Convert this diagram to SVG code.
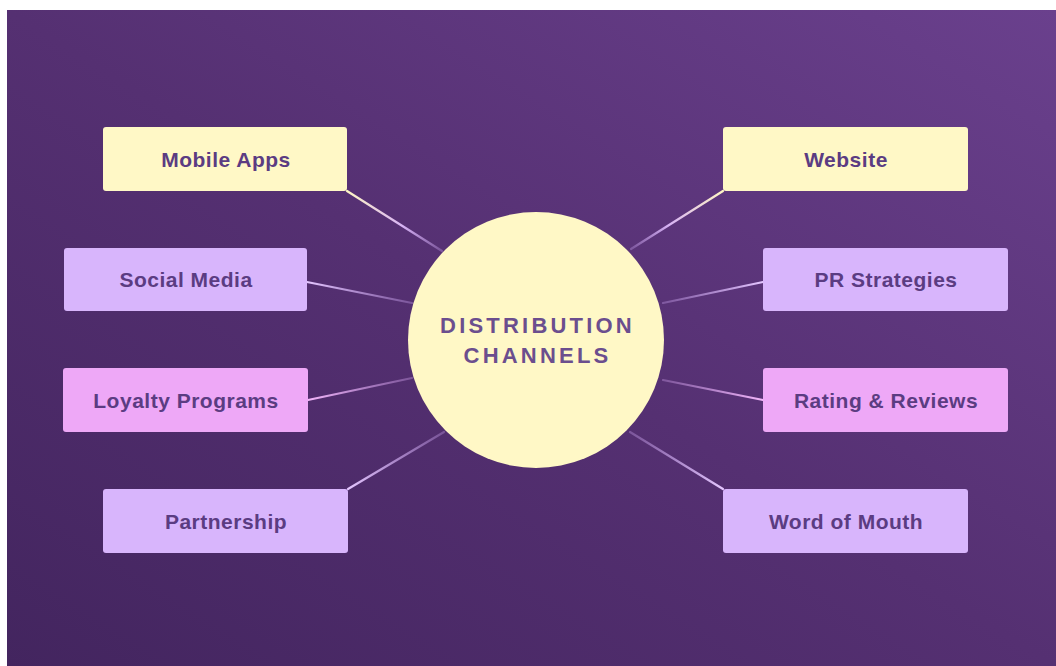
<svg xmlns="http://www.w3.org/2000/svg" width="1056" height="666" viewBox="0 0 1056 666">
  <defs>
    <linearGradient id="bg" x1="0" y1="1" x2="1" y2="0">
      <stop offset="0" stop-color="#43255f"/>
      <stop offset="0.5" stop-color="#553072"/>
      <stop offset="1" stop-color="#6a408d"/>
    </linearGradient>
    <!-- connector fades: box colour at the box end, soft lavender toward the hub -->
    <linearGradient id="gYellowL" gradientUnits="userSpaceOnUse" x1="347" y1="191" x2="440" y2="250">
      <stop offset="0" stop-color="#fff6c4"/>
      <stop offset="0.6" stop-color="#d7b3f5"/>
      <stop offset="1" stop-color="#c9a2ee" stop-opacity="0.35"/>
    </linearGradient>
    <linearGradient id="gYellowR" gradientUnits="userSpaceOnUse" x1="723" y1="191" x2="633" y2="248">
      <stop offset="0" stop-color="#fff6c4"/>
      <stop offset="0.6" stop-color="#d7b3f5"/>
      <stop offset="1" stop-color="#c9a2ee" stop-opacity="0.35"/>
    </linearGradient>
    <linearGradient id="gSocial" gradientUnits="userSpaceOnUse" x1="307" y1="282" x2="410" y2="303">
      <stop offset="0" stop-color="#e4c6ff"/>
      <stop offset="1" stop-color="#c9a2ee" stop-opacity="0.35"/>
    </linearGradient>
    <linearGradient id="gPR" gradientUnits="userSpaceOnUse" x1="763" y1="282" x2="665" y2="303">
      <stop offset="0" stop-color="#e4c6ff"/>
      <stop offset="1" stop-color="#c9a2ee" stop-opacity="0.35"/>
    </linearGradient>
    <linearGradient id="gLoyalty" gradientUnits="userSpaceOnUse" x1="308" y1="400" x2="411" y2="378">
      <stop offset="0" stop-color="#f3b6fa"/>
      <stop offset="1" stop-color="#d2a2ee" stop-opacity="0.35"/>
    </linearGradient>
    <linearGradient id="gRating" gradientUnits="userSpaceOnUse" x1="763" y1="400" x2="665" y2="380">
      <stop offset="0" stop-color="#f3b6fa"/>
      <stop offset="1" stop-color="#d2a2ee" stop-opacity="0.35"/>
    </linearGradient>
    <linearGradient id="gPartner" gradientUnits="userSpaceOnUse" x1="348" y1="489" x2="442" y2="433">
      <stop offset="0" stop-color="#e4c6ff"/>
      <stop offset="1" stop-color="#c9a2ee" stop-opacity="0.35"/>
    </linearGradient>
    <linearGradient id="gWord" gradientUnits="userSpaceOnUse" x1="723" y1="489" x2="632" y2="433">
      <stop offset="0" stop-color="#e4c6ff"/>
      <stop offset="1" stop-color="#c9a2ee" stop-opacity="0.35"/>
    </linearGradient>
  </defs>
  <style>
    .box { rx: 3; ry: 3; }
    .yellow { fill: #fff8c6; }
    .lavender { fill: #d8b5fc; }
    .pink { fill: #eea8f7; }
    .label { font-family: "Liberation Sans", Arial, sans-serif; font-weight: bold; font-size: 21px; fill: #5b3c82; text-anchor: middle; letter-spacing: 0.5px; }
    .hub-text { font-family: "Liberation Sans", Arial, sans-serif; font-weight: bold; font-size: 22px; fill: #6b4e8e; text-anchor: middle; letter-spacing: 3.2px; }
    .link { stroke-width: 2.2; stroke-linecap: round; fill: none; }
  </style>

  <rect x="0" y="0" width="1056" height="666" fill="#ffffff"/>
  <rect x="7" y="10" width="1049" height="656" fill="url(#bg)"/>

  <g id="connectors">
    <line class="link" x1="347" y1="191" x2="442" y2="251" stroke="url(#gYellowL)"/>
    <line class="link" x1="307" y1="282" x2="412" y2="303" stroke="url(#gSocial)"/>
    <line class="link" x1="308" y1="400" x2="412" y2="378" stroke="url(#gLoyalty)"/>
    <line class="link" x1="348" y1="489" x2="444" y2="432" stroke="url(#gPartner)"/>
    <line class="link" x1="723" y1="191" x2="631" y2="249" stroke="url(#gYellowR)"/>
    <line class="link" x1="763" y1="282" x2="663" y2="303" stroke="url(#gPR)"/>
    <line class="link" x1="763" y1="400" x2="663" y2="380" stroke="url(#gRating)"/>
    <line class="link" x1="723" y1="489" x2="630" y2="432" stroke="url(#gWord)"/>
  </g>

  <g id="hub">
    <circle cx="536" cy="340" r="128" fill="#fff8c6"/>
    <text class="hub-text" x="537.5" y="333">DISTRIBUTION</text>
    <text class="hub-text" x="537.5" y="363">CHANNELS</text>
  </g>

  <g id="mobile-apps">
    <rect class="box yellow" x="103" y="127" width="244" height="64"/>
    <text class="label" x="226" y="166.5">Mobile Apps</text>
  </g>
  <g id="social-media">
    <rect class="box lavender" x="64" y="248" width="243" height="63"/>
    <text class="label" x="186" y="287">Social Media</text>
  </g>
  <g id="loyalty-programs">
    <rect class="box pink" x="63" y="368" width="245" height="64"/>
    <text class="label" x="186" y="407.5">Loyalty Programs</text>
  </g>
  <g id="partnership">
    <rect class="box lavender" x="103" y="489" width="245" height="64"/>
    <text class="label" x="226" y="528.5">Partnership</text>
  </g>
  <g id="website">
    <rect class="box yellow" x="723" y="127" width="245" height="64"/>
    <text class="label" x="846" y="166.5">Website</text>
  </g>
  <g id="pr-strategies">
    <rect class="box lavender" x="763" y="248" width="245" height="63"/>
    <text class="label" x="886" y="287">PR Strategies</text>
  </g>
  <g id="rating-reviews">
    <rect class="box pink" x="763" y="368" width="245" height="64"/>
    <text class="label" x="886" y="407.5">Rating &amp; Reviews</text>
  </g>
  <g id="word-of-mouth">
    <rect class="box lavender" x="723" y="489" width="245" height="64"/>
    <text class="label" x="846" y="528.5">Word of Mouth</text>
  </g>
</svg>
